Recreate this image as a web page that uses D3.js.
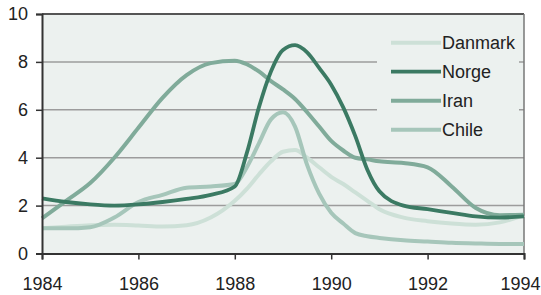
<!DOCTYPE html>
<html>
<head>
<meta charset="utf-8">
<script src="https://cdn.jsdelivr.net/npm/d3@7"></script>
<style>
    body { margin: 0; background: #fff; }
    text { font-family: "Liberation Sans Narrow", "Liberation Sans", Arial, sans-serif; fill: #222; }
</style>
</head>
<body>
<div id="chart"></div>
<script>
var years = [1984, 1984.5, 1985, 1985.5, 1986, 1986.5, 1987, 1987.5, 1988,
    1988.25, 1988.5, 1988.75, 1989, 1989.25, 1989.5, 1989.75, 1990,
    1990.25, 1990.5, 1990.75, 1991, 1991.5, 1992, 1992.5, 1993, 1993.5, 1994];

var danmark = [1.05, 1.12, 1.18, 1.2, 1.17, 1.13, 1.18, 1.5, 2.2,
    2.7, 3.3, 3.85, 4.25, 4.32, 4.0, 3.6, 3.2,
    2.9, 2.55, 2.2, 1.85, 1.5, 1.35, 1.25, 1.2, 1.3, 1.6];
var norge = [2.3, 2.15, 2.05, 2.0, 2.05, 2.15, 2.28, 2.45, 2.8,
    4.2, 6.1, 7.6, 8.5, 8.7, 8.4, 7.75, 7.05,
    6.1, 4.9, 3.5, 2.6, 2.0, 1.85, 1.7, 1.55, 1.5, 1.55];
var iran = [1.47, 2.2, 2.94, 4.0, 5.25, 6.5, 7.45, 7.95, 8.05,
    7.9, 7.6, 7.2, 6.85, 6.45, 5.9, 5.3, 4.7,
    4.3, 4.0, 3.93, 3.85, 3.78, 3.6, 2.8, 1.9, 1.6, 1.62];
var chile = [1.05, 1.05, 1.1, 1.5, 2.15, 2.45, 2.75, 2.8, 2.9,
    3.6, 4.6, 5.6, 5.9, 5.3, 3.7, 2.5, 1.7,
    1.25, 0.85, 0.72, 0.65, 0.55, 0.5, 0.45, 0.42, 0.4, 0.4];

var seriesNames = ["Danmark", "Norge", "Iran", "Chile"];
var xTicks = [1984, 1986, 1988, 1990, 1992, 1994];
var yTicks = [0, 2, 4, 6, 8, 10];

var colors = {Danmark: "#cde0d7", Norge: "#3b7a63", Iran: "#80ab9a", Chile: "#a6c6ba"};
var values = {Danmark: danmark, Norge: norge, Iran: iran, Chile: chile};

var margin = {top: 14, right: 17, bottom: 41.5, left: 42},
    width = 541 - margin.left - margin.right,
    height = 295 - margin.top - margin.bottom;

var svg = d3.select("#chart").append("svg")
    .attr("width", 541)
    .attr("height", 295)
    .append("g")
    .attr("transform", "translate(" + margin.left + "," + margin.top + ")");

var x = d3.scaleLinear().domain([1984, 1994]).range([0, width]);
var y = d3.scaleLinear().domain([0, 10]).range([height, 0]);

svg.append("rect")
    .attr("width", width)
    .attr("height", height)
    .attr("fill", "#ecf1ef");

// gridlines
svg.selectAll(".grid")
    .data(yTicks.filter(function(d) { return d > 0 && d < 10; }))
    .enter().append("line")
    .attr("x1", 0).attr("x2", width)
    .attr("y1", function(d) { return y(d); })
    .attr("y2", function(d) { return y(d); })
    .attr("stroke", "#9c9c9c")
    .attr("stroke-width", 1.5);

// frame top and right
svg.append("line").attr("x1", 0).attr("x2", width).attr("y1", 0).attr("y2", 0)
    .attr("stroke", "#555").attr("stroke-width", 2);
svg.append("line").attr("x1", width).attr("x2", width).attr("y1", 0).attr("y2", height)
    .attr("stroke", "#777").attr("stroke-width", 1.5);

// legend background hides the gridlines
var legendX = 377 - margin.left;
svg.append("rect")
    .attr("x", legendX).attr("y", 28 - margin.top)
    .attr("width", 142).attr("height", 118)
    .attr("fill", "#ecf1ef");

var line = d3.line()
    .curve(d3.curveMonotoneX)
    .x(function(d, i) { return x(years[i]); })
    .y(function(d) { return y(d); });

["Danmark", "Chile", "Iran", "Norge"].forEach(function(name) {
    svg.append("path")
        .datum(values[name])
        .attr("fill", "none")
        .attr("stroke", colors[name])
        .attr("stroke-width", name === "Norge" ? 3.8 : 4)
        .attr("stroke-linejoin", "round")
        .attr("d", line);
});

// axes
var yAxis = svg.append("g")
    .call(d3.axisLeft(y).tickValues(yTicks).tickSize(6).tickPadding(8).tickFormat(d3.format("d")));
var xAxis = svg.append("g")
    .attr("transform", "translate(0," + height + ")")
    .call(d3.axisBottom(x).tickValues(xTicks).tickSize(6).tickPadding(18).tickFormat(d3.format("d")));

[yAxis, xAxis].forEach(function(ax) {
    ax.select(".domain").attr("stroke", "#333").attr("stroke-width", 2);
    ax.selectAll(".tick line").attr("stroke", "#333").attr("stroke-width", 1.5);
    ax.selectAll("text").style("font-size", "18px").attr("fill", "#222");
});

// last year label sits flush with the right edge
xAxis.selectAll(".tick text")
    .filter(function(d) { return d === 1994; })
    .attr("text-anchor", "end")
    .attr("x", 16);

// legend
var legend = svg.selectAll(".legend")
    .data(seriesNames)
    .enter().append("g")
    .attr("transform", function(d, i) { return "translate(" + (391 - margin.left) + "," + (42.7 - margin.top + i * 29) + ")"; });

legend.append("line")
    .attr("x1", 0).attr("x2", 50)
    .attr("stroke", function(d) { return colors[d]; })
    .attr("stroke-width", function(d) { return d === "Norge" ? 3.8 : 4; });

legend.append("text")
    .attr("x", 51)
    .attr("dy", "0.35em")
    .style("font-size", "18px")
    .text(function(d) { return d; });
</script>
</body>
</html>
